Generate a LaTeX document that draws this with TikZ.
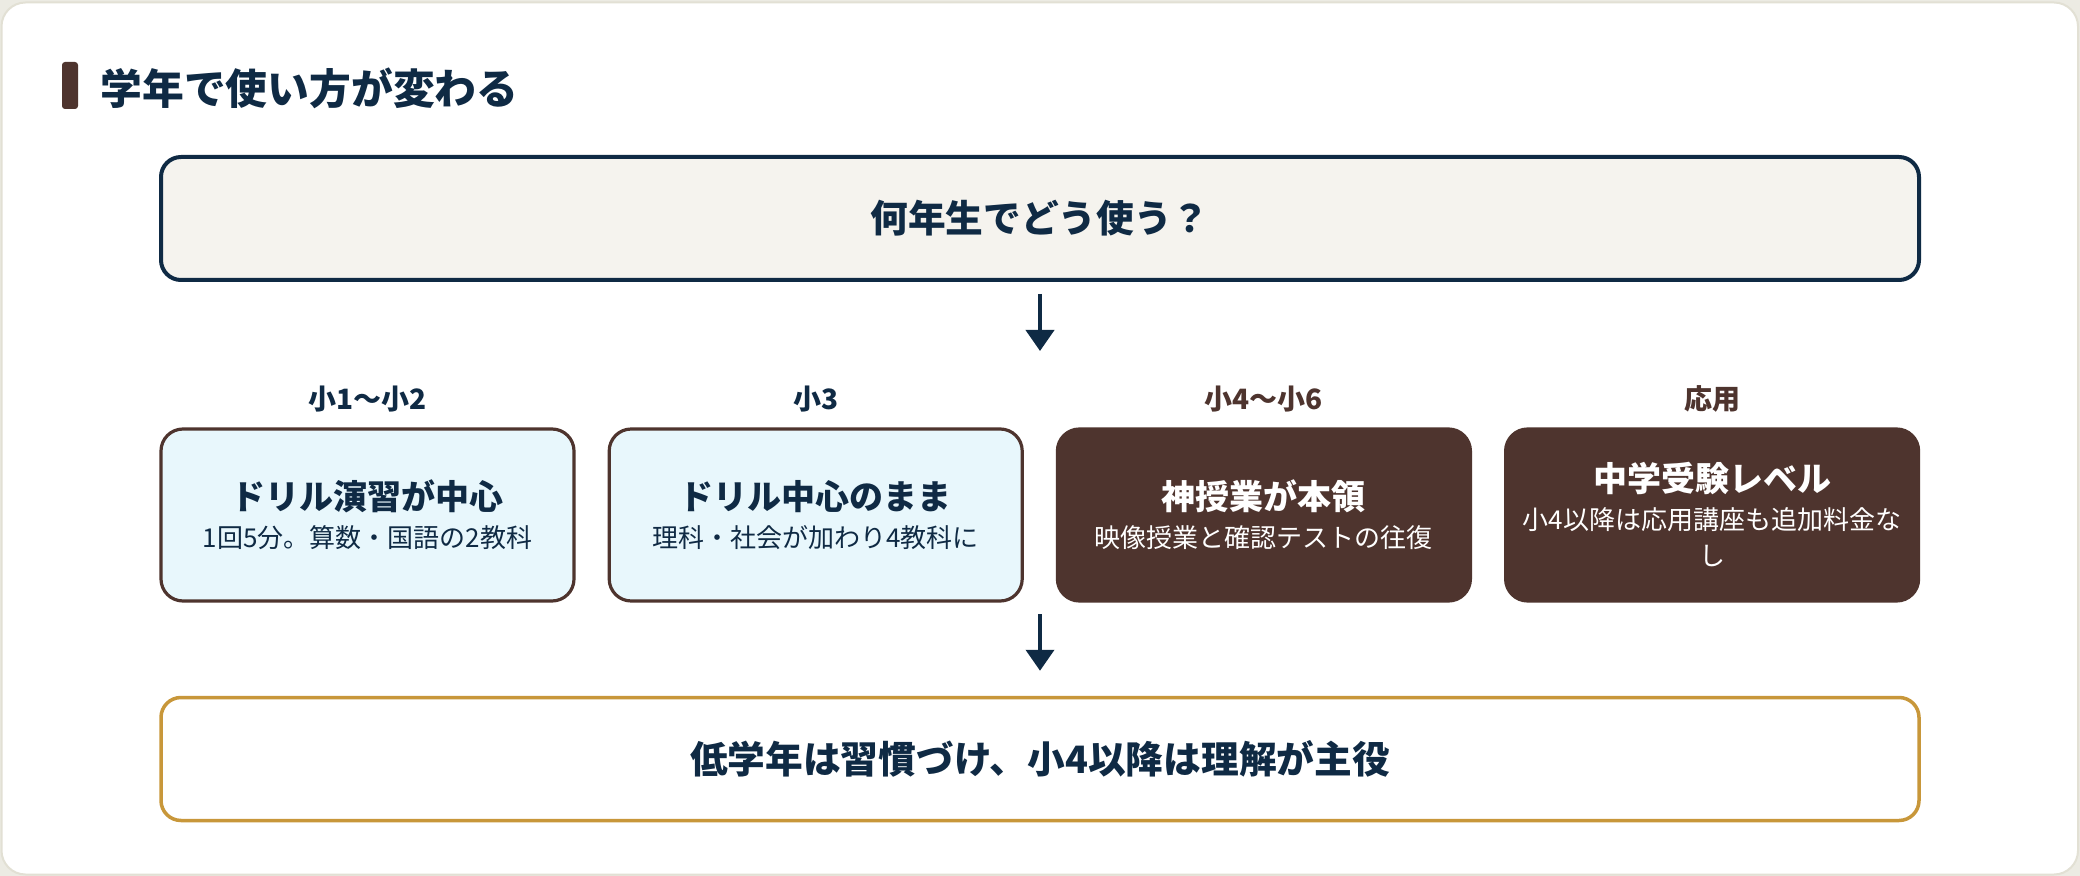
\documentclass[tikz,border=0pt]{standalone}
\usepackage{fontspec}
\setmainfont{Noto Sans CJK JP}
\usetikzlibrary{positioning,arrows.meta}
\definecolor{navy}{HTML}{0F2A44}
\definecolor{choco}{HTML}{4E342E}
\definecolor{lite}{HTML}{E8F7FC}
\definecolor{paper}{HTML}{F5F3EE}
\definecolor{gold}{HTML}{C8973A}
\definecolor{cardline}{HTML}{E2E0D4}
\definecolor{outside}{HTML}{ECEBE3}
\newcommand\boxhead[1]{{\fontsize{17}{19}\selectfont\bfseries #1}}
\begin{document}
\begin{tikzpicture}[x=0.5pt,y=-0.5pt,line join=round,line cap=round,
 >={Triangle[width=14pt,length=10.5pt]},
 wide/.style={line width=2pt,rounded corners=10pt,minimum width=879pt,minimum height=61.5pt,
  font=\fontsize{18.85}{22}\selectfont\bfseries,text=navy},
 grade/.style={line width=1.6pt,draw=choco,rounded corners=11pt,minimum width=206.5pt,minimum height=86pt,
  align=center,inner sep=0pt,font=\fontsize{13}{19}\selectfont},
 litebox/.style={grade,fill=lite,text=navy},
 darkbox/.style={grade,fill=choco,text=white},
 tag/.style={font=\fontsize{14}{16}\selectfont\bfseries,inner sep=0pt},
 arr/.style={->,draw=navy,line width=2pt,line cap=butt}]
 \useasboundingbox (0,0) rectangle (2080,876);
 \fill[outside] (0,0) rectangle (2080,876);
 \draw[cardline,fill=white,line width=1pt,rounded corners=12pt] (1.5,2.5) rectangle (2078,874.5);
 % title
 \fill[choco,rounded corners=1.5pt] (62,62) rectangle (78,109);
 \node[anchor=west,inner sep=0pt,text=navy,font=\fontsize{20.9}{24}\selectfont\bfseries] (ttl) at (100,88) {学年で使い方が変わる};
 % question
 \node[wide,draw=navy,fill=paper] (q) at (1040,218.5) {何年生でどう使う？};
 \coordinate (a1) at (1040,351);
 \draw[arr,shorten <=6pt] (q.south)--(a1);
 % grades
 \node[litebox] (g1) at (367.5,515) {\boxhead{ドリル演習が中心}\\ 1回5分。算数・国語の2教科};
 \node[litebox,right=16pt of g1] (g2) {\boxhead{ドリル中心のまま}\\ 理科・社会が加わり4教科に};
 \node[darkbox,right=16pt of g2] (g3) {\boxhead{神授業が本領}\\ 映像授業と確認テストの往復};
 \node[darkbox,right=16pt of g3] (g4) {\boxhead{中学受験レベル}\\ 小4以降は応用講座も追加料金な\\[-1pt] し};
 \node[tag,text=navy] (t1) at ([yshift=14pt]g1.north) {小1〜小2};
 \node[tag,text=navy] (t2) at ([yshift=14pt]g2.north) {小3};
 \node[tag,text=choco] (t3) at ([yshift=14pt]g3.north) {小4〜小6};
 \node[tag,text=choco] (t4) at ([yshift=14pt]g4.north) {応用};
 % summary
 \node[wide,draw=gold,line width=1.75pt,fill=white] (s) at (1040,759) {低学年は習慣づけ、小4以降は理解が主役};
 \coordinate (a2) at (1040,614);
 \draw[arr,shorten >=12.5pt] (a2)--(s.north);
\end{tikzpicture}
\end{document}
